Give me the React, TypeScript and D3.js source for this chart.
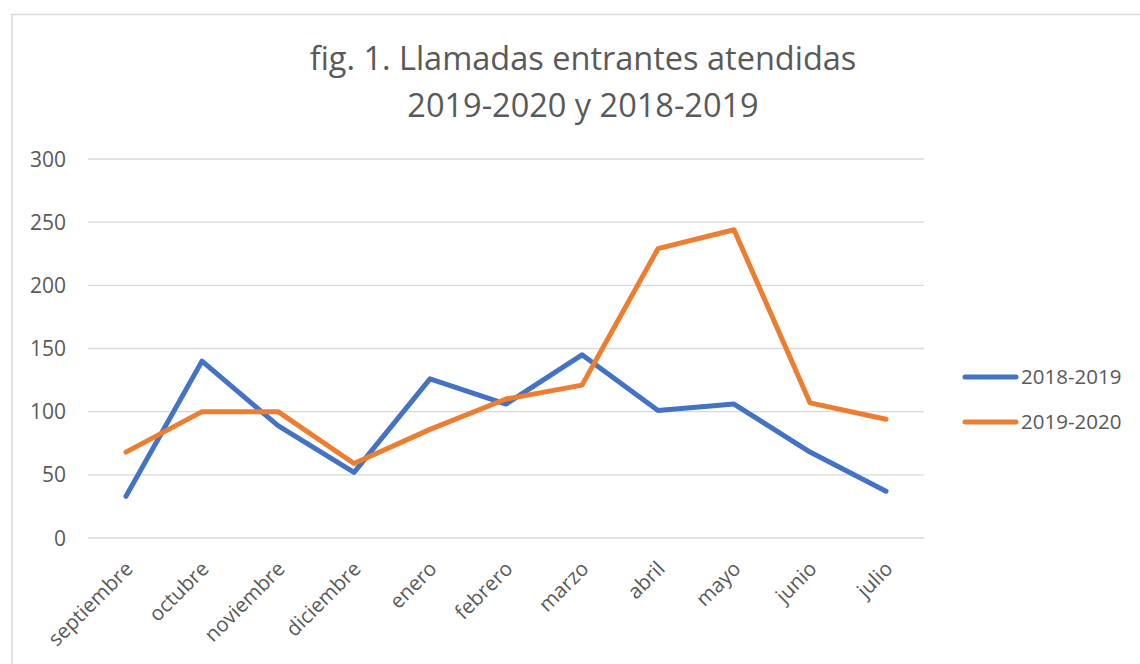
import { useEffect, useRef } from 'react';
import { select, scaleBand, scaleLinear, line } from 'd3';

const months = ['septiembre', 'octubre', 'noviembre', 'diciembre', 'enero', 'febrero', 'marzo', 'abril', 'mayo', 'junio', 'julio'];
const serie1819 = [33, 140, 89, 52, 126, 106, 145, 101, 106, 68, 37];
const serie1920 = [68, 100, 100, 59, 86, 110, 121, 229, 244, 107, 94];
const yTicks = [0, 50, 100, 150, 200, 250, 300];
const seriesNames = ['2018-2019', '2019-2020'];
const colors = ['#4472C4', '#ED7D31'];

const W = 1140;
const H = 664;

const App = () => {
    const svgRef = useRef<SVGSVGElement>(null);

    useEffect(() => {
        const svg = select(svgRef.current);
        svg.selectAll('*').remove();

        const font = "'Open Sans', 'Noto Sans', sans-serif";
        const grey = '#595959';

        // Outer chart border
        svg.append('rect')
            .attr('x', 12).attr('y', 14.5)
            .attr('width', W + 20).attr('height', H + 20)
            .attr('fill', 'white')
            .attr('stroke', '#d9d9d9')
            .attr('stroke-width', 1.5);

        // Title
        const title = svg.append('text')
            .attr('text-anchor', 'middle')
            .attr('fill', grey)
            .style('font-family', font)
            .style('font-size', '32.5px');
        title.append('tspan').attr('x', 583).attr('y', 70).text('fig. 1. Llamadas entrantes atendidas');
        title.append('tspan').attr('x', 583).attr('y', 117).text('2019-2020 y 2018-2019');

        const x = scaleBand<string>().domain(months).range([88, 924]);
        const y = scaleLinear().domain([0, 300]).range([538, 159]);

        // Gridlines
        svg.append('g').selectAll('line')
            .data(yTicks)
            .enter().append('line')
            .attr('x1', 88).attr('x2', 924)
            .attr('y1', d => y(d)).attr('y2', d => y(d))
            .attr('stroke', '#d9d9d9')
            .attr('stroke-width', 1.3);

        // Y tick labels
        svg.append('g').selectAll('text')
            .data(yTicks)
            .enter().append('text')
            .attr('x', 66)
            .attr('y', d => y(d))
            .attr('dy', '0.36em')
            .attr('text-anchor', 'end')
            .attr('fill', grey)
            .style('font-family', font)
            .style('font-size', '21px')
            .text(d => d);

        // X category labels
        svg.append('g').selectAll('text')
            .data(months)
            .enter().append('text')
            .attr('transform', d => `translate(${(x(d) ?? 0) + x.bandwidth() / 2 + 3},${565}) rotate(-45)`)
            .attr('text-anchor', 'end')
            .attr('dy', '0.35em')
            .attr('fill', grey)
            .style('font-family', font)
            .style('font-size', '20.5px')
            .text(d => d);

        // Lines
        const lineGen = line<number>()
            .x((d, i) => (x(months[i]) ?? 0) + x.bandwidth() / 2)
            .y(d => y(d));

        [serie1819, serie1920].forEach((s, i) => {
            svg.append('path')
                .datum(s)
                .attr('d', lineGen)
                .attr('fill', 'none')
                .attr('stroke', colors[i])
                .attr('stroke-width', 5)
                .attr('stroke-linejoin', 'round')
                .attr('stroke-linecap', 'round');
        });

        // Legend
        const legend = svg.append('g');
        seriesNames.forEach((name, i) => {
            const ly = 377 + i * 45;
            legend.append('line')
                .attr('x1', 965).attr('x2', 1016)
                .attr('y1', ly).attr('y2', ly)
                .attr('stroke', colors[i])
                .attr('stroke-width', 5)
                .attr('stroke-linecap', 'round');
            legend.append('text')
                .attr('x', 1021).attr('y', ly)
                .attr('dy', '0.36em')
                .attr('fill', grey)
                .style('font-family', font)
                .style('font-size', '20.5px')
                .text(name);
        });
    }, []);

    return (
        <svg ref={svgRef} width={W} height={H}
            style={{ position: 'absolute', left: 0, top: 0, background: 'white' }} />
    );
};

export default App;
